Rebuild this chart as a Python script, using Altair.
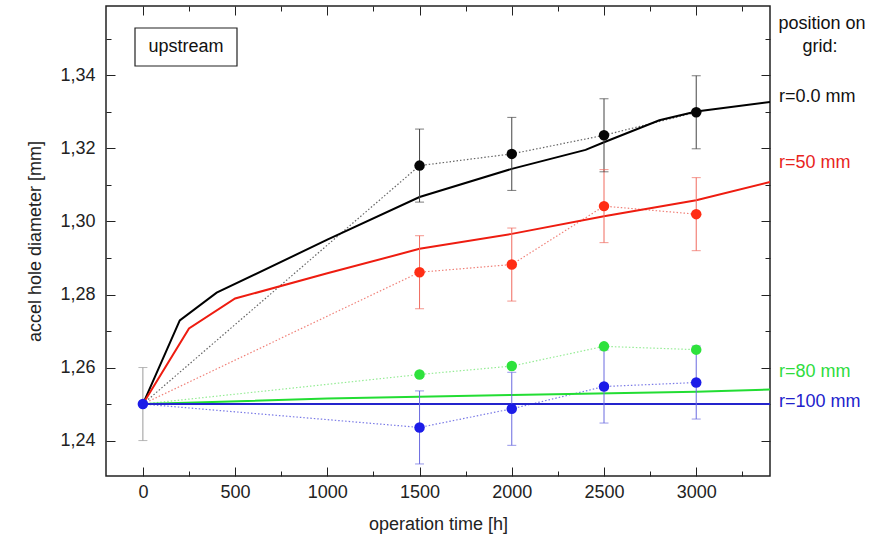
import altair as alt
import pandas as pd

FONT = "Liberation Sans"

series = ["r=0.0 mm", "r=50 mm", "r=80 mm", "r=100 mm"]

# measured hole diameters (points, dotted connections)
meas_time = [0, 1500, 2000, 2500, 3000]
meas_r0 = [1.25, 1.3153, 1.3185, 1.3236, 1.3299]
meas_r50 = [1.25, 1.2861, 1.2882, 1.3042, 1.3020]
meas_r80 = [1.25, 1.2581, 1.2604, 1.2658, 1.2649]
meas_r100 = [1.25, 1.2436, 1.2487, 1.2548, 1.2559]

# error bar half width and which series carry bars
err_half = 0.01
err_series = ["start", "r=0.0 mm", "r=50 mm", "r=100 mm"]

# simulated (solid) curves
model_r0_t = [0, 200, 400, 1000, 1500, 2000, 2400, 2500, 2800, 3000, 3400]
model_r0 = [1.25, 1.2729, 1.2805, 1.2950, 1.3067, 1.3144, 1.3196, 1.3217, 1.3277, 1.3301, 1.3327]
model_r50_t = [0, 250, 500, 1000, 1500, 2000, 2500, 3000, 3400]
model_r50 = [1.25, 1.2707, 1.2789, 1.2858, 1.2925, 1.2966, 1.3014, 1.3058, 1.3108]
model_r80_t = [0, 1000, 2000, 3000, 3400]
model_r80 = [1.25, 1.2515, 1.2525, 1.2534, 1.2540]
model_r100_t = [0, 3400]
model_r100 = [1.25, 1.25]

x_major = [0, 500, 1000, 1500, 2000, 2500, 3000]
x_minor = [250, 750, 1250, 1750, 2250, 2750, 3250]
y_major = [1.24, 1.26, 1.28, 1.30, 1.32, 1.34]
y_minor = [1.25, 1.27, 1.29, 1.31, 1.33, 1.35]

# ---- tables ----
meas_vals = {"r=0.0 mm": meas_r0, "r=50 mm": meas_r50, "r=80 mm": meas_r80, "r=100 mm": meas_r100}
rows = []
for s in series:
    for t, d in zip(meas_time, meas_vals[s]):
        rows.append({"t": t, "d": d, "s": s})
meas_df = pd.DataFrame(rows)
pts_df = meas_df[(meas_df.t > 0) | (meas_df.s == "r=100 mm")]

model = {"r=0.0 mm": (model_r0_t, model_r0), "r=50 mm": (model_r50_t, model_r50),
         "r=80 mm": (model_r80_t, model_r80), "r=100 mm": (model_r100_t, model_r100)}
mrows = []
for s in series:
    for t, d in zip(*model[s]):
        mrows.append({"t": t, "d": d, "s": s})
model_df = pd.DataFrame(mrows)

erows = [{"t": 0, "lo": 1.25 - err_half, "hi": 1.25 + err_half, "s": "start"}]
for s in err_series[1:]:
    for t, d in zip(meas_time[1:], meas_vals[s][1:]):
        erows.append({"t": t, "lo": d - err_half, "hi": d + err_half, "s": s})
err_df = pd.DataFrame(erows)

xs = alt.Scale(domain=[-200, 3400], nice=False, zero=False)
ys = alt.Scale(domain=[1.2303, 1.359], nice=False, zero=False)

lab_expr = "replace(format(datum.value, '.2f'), '.', ',')"

common = dict(domain=False, grid=False, tickColor="#222222", tickWidth=1,
              labelFont=FONT, labelFontSize=18, labelColor="#222222",
              titleFont=FONT, titleFontSize=18, titleFontWeight="normal", titleColor="#222222")

ax_x_bottom = alt.Axis(orient="bottom", values=x_major, tickSize=9, offset=-9, labelPadding=7,
                       title="operation time [h]", titleY=57, titleBaseline="middle", format="d", **common)
ax_x_bottom_minor = alt.Axis(orient="bottom", values=x_minor, tickSize=5, offset=-5, labels=False, title=None, **common)
ax_x_top = alt.Axis(orient="top", values=x_major, tickSize=9, offset=-9, labels=False, title=None, **common)
ax_x_top_minor = alt.Axis(orient="top", values=x_minor, tickSize=5, offset=-5, labels=False, title=None, **common)

ax_y_left = alt.Axis(orient="left", values=y_major, tickSize=9, offset=-9, labelPadding=11,
                     labelExpr=lab_expr, title="accel hole diameter [mm]",
                     titleX=-80, titleY=235, titleAlign="center", titleBaseline="middle", **common)
ax_y_left_minor = alt.Axis(orient="left", values=y_minor, tickSize=5, offset=-5, labels=False, title=None, **common)
ax_y_right = alt.Axis(orient="right", values=y_major, tickSize=9, offset=-9, labels=False, title=None, **common)
ax_y_right_minor = alt.Axis(orient="right", values=y_minor, tickSize=5, offset=-5, labels=False, title=None, **common)

dotted_cols = ["#666666", "#f08078", "#95ec95", "#7a7ae6"]
solid_cols = ["#000000", "#ee1c10", "#22dd33", "#2424cc"]
point_cols = ["#050505", "#ff2d14", "#2ee23c", "#1c1ce8"]
err_cols = ["#9a9a9a", "#444444", "#f06a5e", "#6a6ae0"]

dotted = alt.Chart(meas_df).mark_line(strokeDash=[1.5, 2], strokeWidth=1.2).encode(
    x=alt.X("t:Q", scale=xs, axis=ax_x_bottom),
    y=alt.Y("d:Q", scale=ys, axis=ax_y_left),
    color=alt.Color("s:N", scale=alt.Scale(domain=series, range=dotted_cols), legend=None),
)

solid = alt.Chart(model_df).mark_line(strokeWidth=2, clip=True).encode(
    x=alt.X("t:Q", scale=xs, axis=ax_x_bottom_minor),
    y=alt.Y("d:Q", scale=ys, axis=ax_y_left_minor),
    color=alt.Color("s:N", scale=alt.Scale(domain=series, range=solid_cols), legend=None),
)

bars = alt.Chart(err_df).mark_rule(strokeWidth=1).encode(
    x=alt.X("t:Q", scale=xs, axis=ax_x_top),
    y=alt.Y("lo:Q", scale=ys, axis=ax_y_right),
    y2="hi:Q",
    color=alt.Color("s:N", scale=alt.Scale(domain=err_series, range=err_cols), legend=None),
)

caps = alt.Chart(err_df).transform_fold(["lo", "hi"], as_=["k", "v"]).mark_tick(
    orient="horizontal", size=9, thickness=1).encode(
    x=alt.X("t:Q", scale=xs, axis=ax_x_top_minor),
    y=alt.Y("v:Q", scale=ys, axis=ax_y_right_minor),
    color=alt.Color("s:N", scale=alt.Scale(domain=err_series, range=err_cols), legend=None),
)

points = alt.Chart(pts_df).mark_circle(size=110, opacity=1).encode(
    x=alt.X("t:Q", scale=xs, axis=None),
    y=alt.Y("d:Q", scale=ys, axis=None),
    color=alt.Color("s:N", scale=alt.Scale(domain=series, range=point_cols), legend=None),
)


def txt(label, x, y, color, align="left"):
    return alt.Chart(pd.DataFrame({"label": [label]})).mark_text(
        align=align, baseline="middle", font=FONT, fontSize=18).encode(
        text="label:N", x=alt.value(x), y=alt.value(y), color=alt.value(color))


label_cols = ["#111111", "#e8231c", "#2edc3e", "#2222cc"]
label_y = [91, 157, 366, 396]
labels = [txt(s, 673, yy, c) for s, yy, c in zip(series, label_y, label_cols)]
header = [txt("position on", 716, 18, "#111111", "center"), txt("grid:", 714, 41, "#111111", "center")]

box = alt.Chart(pd.DataFrame({"a": [0]})).mark_rect(fill="white", stroke="#222222", strokeWidth=1.2).encode(
    x=alt.value(29), x2=alt.value(131), y=alt.value(22), y2=alt.value(60))
box_text = txt("upstream", 80, 41, "#111111", "center")

chart = alt.layer(dotted, solid, bars, caps, points, *labels, *header, box, box_text).resolve_axis(
    x="independent", y="independent").resolve_scale(color="independent").properties(
    width=664, height=470, autosize=alt.AutoSizeParams(type="none"),
    padding={"left": 106, "top": 6, "right": 120, "bottom": 66},
    background="white",
).configure_view(stroke="#222222", strokeWidth=1.5)

chart.save("out.html", embed_options={"renderer": "svg", "actions": False})
